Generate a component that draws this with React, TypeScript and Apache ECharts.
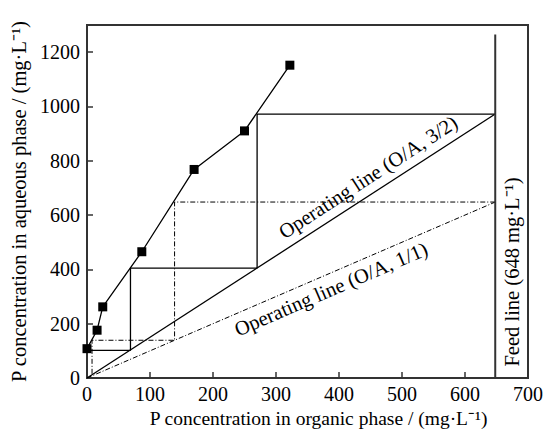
import React, { useEffect, useRef } from "react";
import * as echarts from "echarts";

const xTicks = [0, 100, 200, 300, 400, 500, 600, 700];
const yTicks = [0, 200, 400, 600, 800, 1000, 1200];
const equilibriumX = [0, 16, 25, 87, 170, 250, 322];
const equilibriumY = [108, 176, 262, 465, 768, 910, 1152];
const opLine32X = [0, 648];
const opLine32Y = [0, 972];
const opLine11X = [0, 648];
const opLine11Y = [0, 648];
const stairs32X = [648, 270, 270, 69, 69, 0];
const stairs32Y = [972, 972, 405, 405, 102, 102];
const stairs11X = [648, 139, 139, 8, 8];
const stairs11Y = [648, 648, 139, 139, 8];
const feedX = [648, 648];
const feedY = [0, 1265];

const zip = (xs: number[], ys: number[]) => xs.map((x, i) => [x, ys[i]]);

const FONT = "'Liberation Serif', 'Times New Roman', serif";
const DASHDOT = [5, 2, 1, 2];

export default function App() {
  const ref = useRef<HTMLDivElement>(null);
  useEffect(() => {
    if (!ref.current) return;
    const chart = echarts.init(ref.current, undefined, { renderer: "svg" });
    chart.setOption({
      animation: false,
      backgroundColor: "#fff",
      textStyle: { fontFamily: FONT },
      grid: {
        left: 87,
        right: 22,
        top: 25,
        bottom: 60,
        show: true,
        borderColor: "#333",
        borderWidth: 2,
      },
      xAxis: {
        type: "value",
        min: xTicks[0],
        max: xTicks[xTicks.length - 1],
        interval: 100,
        name: "P concentration in organic phase / (mg·L⁻¹)",
        nameLocation: "middle",
        nameGap: 25,
        nameTextStyle: {
          fontFamily: FONT,
          fontSize: 19.5,
          color: "#000",
          verticalAlign: "top",
          padding: [0, 0, 0, 22],
        },
        axisLine: { show: true, lineStyle: { color: "#333", width: 2 } },
        axisTick: { show: true, inside: true, length: 6, lineStyle: { color: "#333", width: 1.5 } },
        axisLabel: { fontFamily: FONT, fontSize: 20, color: "#000", margin: 6 },
        splitLine: { show: false },
      },
      yAxis: {
        type: "value",
        min: 0,
        max: 1300,
        interval: 200,
        name: "P concentration in aqueous phase / (mg·L⁻¹)",
        nameLocation: "middle",
        nameGap: 51,
        nameTextStyle: { fontFamily: FONT, fontSize: 20.5, color: "#000" },
        axisLine: { show: true, lineStyle: { color: "#333", width: 2 } },
        axisTick: { show: true, inside: true, length: 6, lineStyle: { color: "#333", width: 1.5 } },
        axisLabel: {
          fontFamily: FONT,
          fontSize: 20,
          color: "#000",
          margin: 7,
          showMaxLabel: false,
          formatter: (v: number) => (yTicks.includes(v) ? String(v) : ""),
        },
        splitLine: { show: false },
      },
      series: [
        {
          type: "line",
          data: zip(opLine32X, opLine32Y),
          symbol: "none",
          lineStyle: { color: "#000", width: 1.3 },
        },
        {
          type: "line",
          data: zip(opLine11X, opLine11Y),
          symbol: "none",
          lineStyle: { color: "#000", width: 1, type: DASHDOT },
        },
        {
          type: "line",
          data: zip(stairs32X, stairs32Y),
          symbol: "none",
          lineStyle: { color: "#000", width: 1.3 },
        },
        {
          type: "line",
          data: zip(stairs11X, stairs11Y),
          symbol: "none",
          lineStyle: { color: "#000", width: 1, type: DASHDOT },
        },
        {
          type: "line",
          data: zip(feedX, feedY),
          symbol: "none",
          lineStyle: { color: "#333", width: 2 },
        },
        {
          type: "line",
          data: zip(equilibriumX, equilibriumY),
          symbol: "rect",
          symbolSize: 9,
          itemStyle: { color: "#000" },
          lineStyle: { color: "#000", width: 1.3 },
          z: 5,
        },
      ],
      graphic: [
        {
          type: "text",
          x: 368,
          y: 177,
          rotation: Math.atan(0.6476),
          style: {
            text: "Operating line (O/A, 3/2)",
            fontFamily: FONT,
            fontSize: 20.5,
            fill: "#000",
            align: "center",
            verticalAlign: "middle",
          },
        },
        {
          type: "text",
          x: 331,
          y: 289,
          rotation: Math.atan(0.4317),
          style: {
            text: "Operating line (O/A, 1/1)",
            fontFamily: FONT,
            fontSize: 20.5,
            fill: "#000",
            align: "center",
            verticalAlign: "middle",
          },
        },
        {
          type: "text",
          x: 512,
          y: 272,
          rotation: Math.PI / 2,
          style: {
            text: "Feed line (648 mg·L⁻¹)",
            fontFamily: FONT,
            fontSize: 20.5,
            fill: "#000",
            align: "center",
            verticalAlign: "middle",
          },
        },
      ],
    });
    return () => chart.dispose();
  }, []);
  return (
    <div
      ref={ref}
      style={{ position: "fixed", left: 0, top: 0, width: 550, height: 438 }}
    />
  );
}
